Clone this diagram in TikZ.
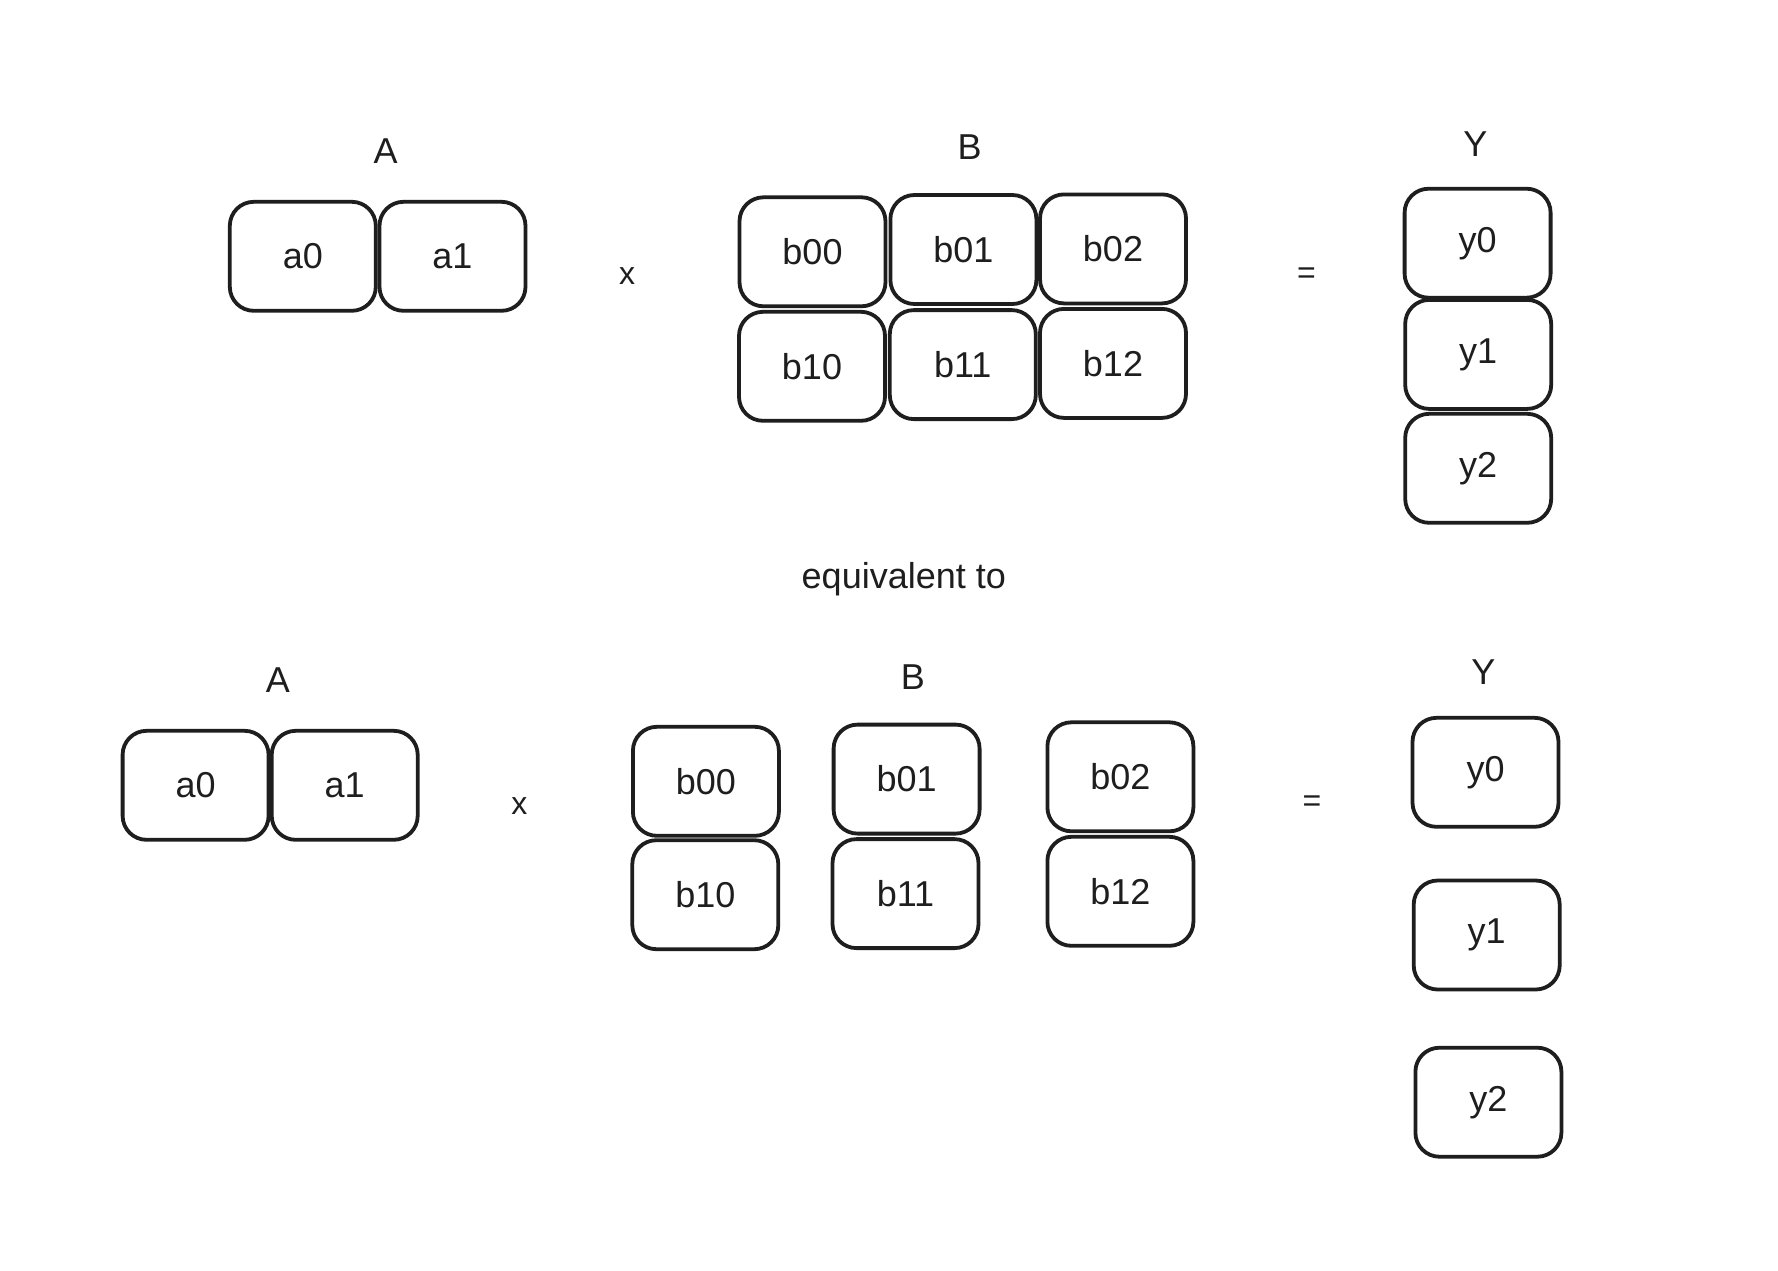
\documentclass[tikz,border=0pt]{standalone}
\usepackage{fontspec}
\setmainfont{Liberation Sans}
\definecolor{ink}{HTML}{1E1E1E}
\begin{document}
\begin{tikzpicture}[x=0.5pt,y=-0.5pt,
  cell/.style={draw=ink,line width=1.9pt,rounded corners=12pt,minimum width=73pt,minimum height=54.5pt,inner sep=0pt,text=ink,font=\fontsize{18}{21}\selectfont},
  lbl/.style={text=ink,inner sep=0pt,font=\fontsize{18}{21}\selectfont},
  op/.style={text=ink,inner sep=0pt,font=\fontsize{16}{19}\selectfont}]
\useasboundingbox[fill=white] (0,0) rectangle (1778,1270);
% top
\node[lbl] (tA) at (385.6,150.8) {A};
\node[cell] (ta0) at (302.8,256.3) {a0};
\node[cell] (ta1) at (452.5,256.3) {a1};
\node[op] (tx) at (627.1,275.6) {x};
\node[lbl] (tB) at (969.6,147.4) {B};
\node[cell] (tb00) at (812.5,251.8) {b00};
\node[cell] (tb01) at (963.4,249.5) {b01};
\node[cell] (tb02) at (1113,248.9) {b02};
\node[cell] (tb10) at (812,366.3) {b10};
\node[cell] (tb11) at (962.8,364.6) {b11};
\node[cell] (tb12) at (1113,363.4) {b12};
\node[op] (teq) at (1306.4,275.6) {=};
\node[lbl] (tY) at (1475.3,144) {Y};
\node[cell] (ty0) at (1477.6,243.2) {y0};
\node[cell] (ty1) at (1478.2,354.4) {y1};
\node[cell] (ty2) at (1478.2,468.3) {y2};
\node[lbl] (eq) at (903.8,579.5) {equivalent to};
% bottom
\node[lbl] (bA) at (277.8,680.4) {A};
\node[cell] (ba0) at (195.6,785.3) {a0};
\node[cell] (ba1) at (344.7,785.3) {a1};
\node[op] (bx) at (519.4,806.3) {x};
\node[lbl] (bB) at (912.9,677) {B};
\node[cell] (bb00) at (705.9,781.3) {b00};
\node[cell] (bb10) at (705.3,894.7) {b10};
\node[cell] (bb01) at (906.6,779.1) {b01};
\node[cell] (bb11) at (905.5,893.6) {b11};
\node[cell] (bb02) at (1120.4,776.8) {b02};
\node[cell] (bb12) at (1120.4,891.3) {b12};
\node[op] (beq) at (1312,804) {=};
\node[lbl] (bY) at (1483.3,672.5) {Y};
\node[cell] (by0) at (1485.5,772.3) {y0};
\node[cell] (by1) at (1486.7,935) {y1};
\node[cell] (by2) at (1488.4,1102.2) {y2};
\end{tikzpicture}
\end{document}
